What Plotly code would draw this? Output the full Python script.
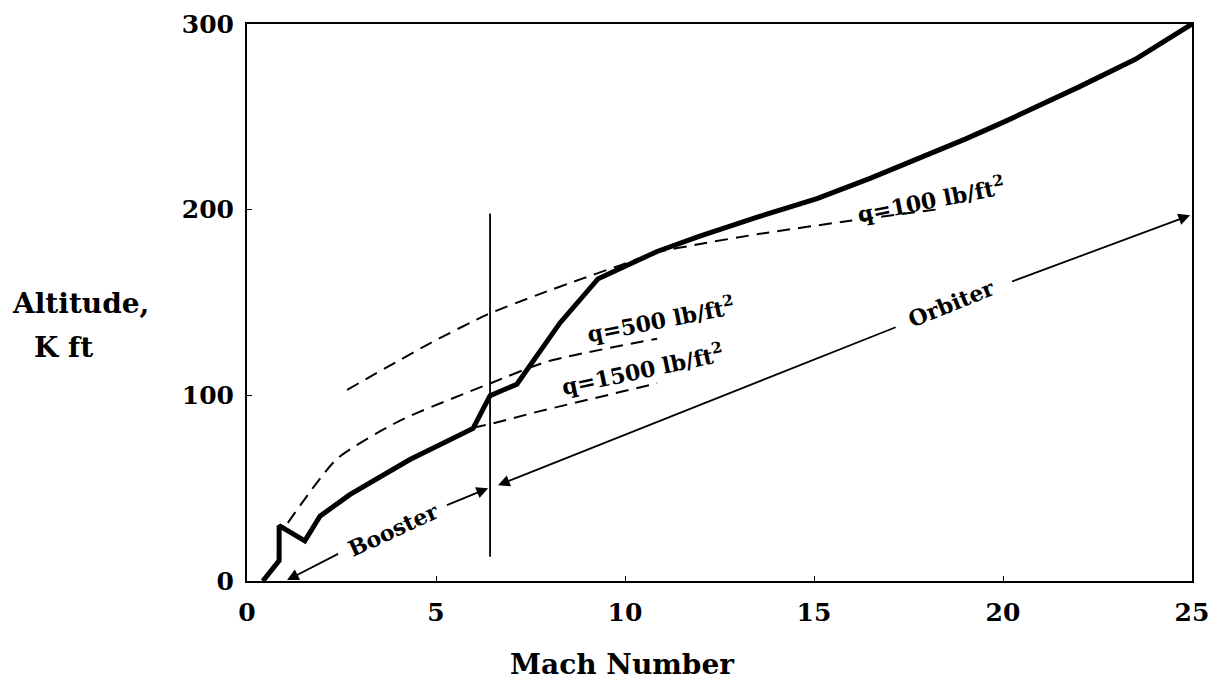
import plotly.graph_objects as go

# ---- data (Mach number, altitude in K ft) ----
traj_mach = [0.42, 0.85, 0.85, 1.53, 1.93, 2.72, 4.31, 5.98, 6.43, 7.14, 8.28, 9.29, 10.85, 11.98, 13.5, 15.08, 16.5, 18.0, 19.0, 20.0, 21.0, 22.0, 23.5, 25.0]
traj_alt = [0.0, 11.0, 29.8, 21.6, 34.9, 46.5, 65.4, 82.2, 99.8, 106.0, 139.0, 162.8, 177.5, 185.8, 196.0, 206.0, 217.0, 229.5, 238.0, 247.0, 256.5, 266.0, 281.0, 300.0]

q100_mach = [2.65, 4.84, 6.35, 7.67, 8.89, 9.87, 10.85, 11.98, 13.57, 15.95, 18.4]
q100_alt = [103.0, 128.0, 143.5, 154.0, 163.0, 170.0, 177.0, 181.5, 187.0, 194.0, 200.5]

q500_mach = [1.08, 2.38, 4.05, 6.43, 7.94, 10.85]
q500_alt = [31.3, 65.8, 86.4, 106.4, 118.2, 130.5]

q1500_mach = [5.98, 6.43, 7.75, 9.3, 10.85]
q1500_alt = [82.5, 84.5, 91.5, 99.0, 106.5]

stage_mach = [6.43, 6.43]
stage_alt = [13.0, 198.0]

x_ticks = [0, 5, 10, 15, 20, 25]
y_ticks = [0, 100, 200, 300]

# arrows: (tip_mach, tip_alt, tail_mach, tail_alt)
booster_arrows = [(1.06, 0.5, 2.45, 15.0), (6.38, 50.0, 5.25, 40.5)]
orbiter_arrows = [(6.64, 51.6, 17.2, 137.0), (24.95, 197.0, 20.2, 161.0)]

labels = [
    ("q=100 lb/ft<sup>2</sup>", 18.1, 206.0, -11),
    ("q=500 lb/ft<sup>2</sup>", 10.95, 141.0, -11),
    ("q=1500 lb/ft<sup>2</sup>", 10.45, 114.0, -12),
    ("Booster", 3.85, 27.5, -25),
    ("Orbiter", 18.65, 149.5, -22),
]

FONT = "DejaVu Serif"

fig = go.Figure()
dash = "13px,8px"
fig.add_trace(go.Scatter(x=q100_mach, y=q100_alt, mode="lines", line=dict(color="black", width=2, dash=dash, shape="spline", smoothing=0.6)))
fig.add_trace(go.Scatter(x=q500_mach, y=q500_alt, mode="lines", line=dict(color="black", width=2, dash=dash, shape="spline", smoothing=0.6)))
fig.add_trace(go.Scatter(x=q1500_mach, y=q1500_alt, mode="lines", line=dict(color="black", width=2, dash=dash)))
fig.add_trace(go.Scatter(x=stage_mach, y=stage_alt, mode="lines", line=dict(color="black", width=1.8)))
fig.add_trace(go.Scatter(x=traj_mach, y=traj_alt, mode="lines", line=dict(color="black", width=5)))

anns = []
for tip_x, tip_y, tail_x, tail_y in booster_arrows + orbiter_arrows:
    anns.append(dict(x=tip_x, y=tip_y, ax=tail_x, ay=tail_y, xref="x", yref="y", axref="x", ayref="y",
                     text="", showarrow=True, arrowhead=2, arrowsize=1.3, arrowwidth=1.8, arrowcolor="black"))
for txt, lx, ly, ang in labels:
    anns.append(dict(x=lx, y=ly, xref="x", yref="y", text=txt, showarrow=False, textangle=ang,
                     font=dict(family=FONT, size=22, color="black", weight="bold")))

title_font = dict(family=FONT, size=28, color="black", weight="bold")
anns.append(dict(x=0.397, y=-0.1508, xref="paper", yref="paper", text="Mach Number", showarrow=False,
                 xanchor="center", yanchor="middle", font=title_font))
anns.append(dict(x=-0.1757, y=0.4991, xref="paper", yref="paper", text="Altitude,", showarrow=False,
                 xanchor="center", yanchor="middle", font=title_font))
anns.append(dict(x=-0.1947, y=0.4201, xref="paper", yref="paper", text="K ft", showarrow=False,
                 xanchor="center", yanchor="middle", font=title_font))

# page body has an 8px margin, so the figure is sized to fit inside the window
fig.update_layout(
    width=1210, height=682,
    margin=dict(l=239, r=26, t=16, b=109, autoexpand=False),
    paper_bgcolor="white", plot_bgcolor="white",
    showlegend=False,
    annotations=anns,
    font=dict(family=FONT, color="black"),
)
fig.update_xaxes(range=[0, 25], tickvals=x_ticks, showgrid=False, zeroline=False, automargin=False,
                 showline=True, mirror=True, linecolor="black", linewidth=2,
                 ticks="inside", ticklen=5, tickcolor="black", ticklabeloverflow="allow",
                 tickfont=dict(family=FONT, size=25, color="black", weight="bold"), ticklabelstandoff=8)
fig.update_yaxes(range=[0, 300], tickvals=y_ticks, showgrid=False, zeroline=False, automargin=False,
                 showline=True, mirror=True, linecolor="black", linewidth=2,
                 ticks="inside", ticklen=5, tickcolor="black", ticklabeloverflow="allow",
                 tickfont=dict(family=FONT, size=25, color="black", weight="bold"), ticklabelstandoff=6)

fig.write_html("out.html")
